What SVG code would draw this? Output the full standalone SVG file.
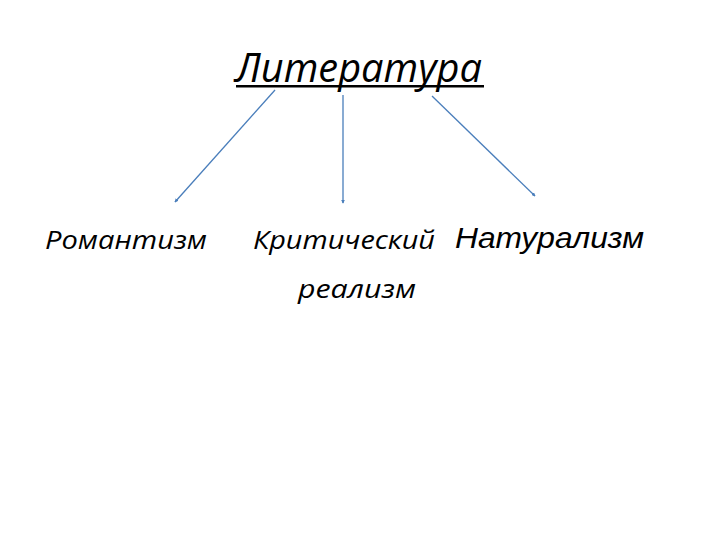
<svg xmlns="http://www.w3.org/2000/svg" width="720" height="540" viewBox="0 0 720 540">
<style>
.cal{font-family:"Open Sans","Noto Sans",sans-serif;font-style:italic;fill:#000}
.ar{font-family:"Liberation Sans",Arial,sans-serif;font-style:italic;fill:#000}
.conn{stroke:#4a7ebb;stroke-width:1.3;fill:none;marker-end:url(#ah)}
</style>
<defs>
<marker id="ah" viewBox="0 0 6 6" refX="5" refY="3" markerWidth="3" markerHeight="3" orient="auto">
<path d="M0,0 L6,3 L0,6 z" fill="#4a7ebb"/>
</marker>
</defs>
<rect width="720" height="540" fill="#fff"/>
<g id="literatura">
<text class="cal" x="235" y="82" font-size="41" textLength="247" lengthAdjust="spacingAndGlyphs">Литература</text>
<rect x="236" y="85" width="248" height="2.5" fill="#000"/>
</g>
<g id="connectors">
<line class="conn" x1="275" y1="90" x2="175" y2="202"/>
<line class="conn" x1="343" y1="95" x2="343" y2="203"/>
<line class="conn" x1="432" y1="96" x2="535" y2="196"/>
</g>
<g id="romantizm">
<text class="cal" x="45" y="249" font-size="26" textLength="162" lengthAdjust="spacingAndGlyphs">Романтизм</text>
</g>
<g id="krit">
<text class="cal" x="253" y="249" font-size="26" textLength="182" lengthAdjust="spacingAndGlyphs">Критический</text>
<text class="cal" x="298" y="298" font-size="26" textLength="118" lengthAdjust="spacingAndGlyphs">реализм</text>
</g>
<g id="natur">
<text class="ar" x="455" y="248" font-size="29" textLength="189" lengthAdjust="spacingAndGlyphs">Натурализм</text>
</g>
</svg>
